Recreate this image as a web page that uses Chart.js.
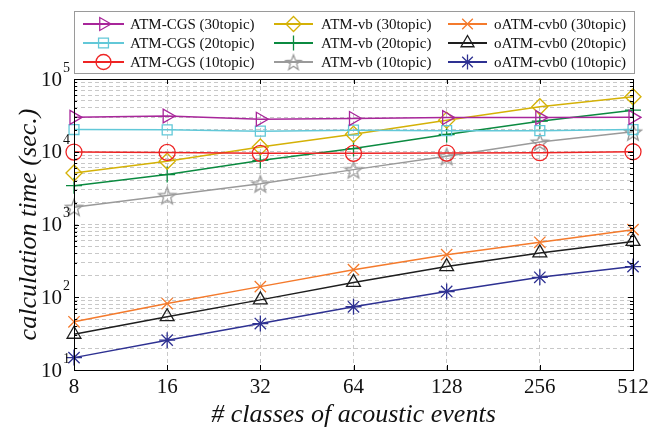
<!DOCTYPE html>
<html><head><meta charset="utf-8">
<script src="https://cdn.jsdelivr.net/npm/chart.js@4/dist/chart.umd.min.js"></script>
<style>html,body{margin:0;padding:0;background:#fff}#wrap{width:662px;height:432px}</style>
</head><body><div id="wrap"><canvas id="c" width="662" height="432"></canvas></div>
<script>
// ---- data ----
const categories = ['8','16','32','64','128','256','512'];
const cgs30 = [29700, 31000, 28000, 28700, 29500, 29500, 29700];
const cgs20 = [20200, 20000, 19200, 19800, 19500, 19500, 20200];
const cgs10 = [9900, 9800, 9500, 9500, 9600, 9700, 10000];
const vb30  = [5100, 7400, 11650, 17400, 27200, 41500, 57000];
const vb20  = [3420, 4850, 7600, 11070, 17270, 26350, 37300];
const vb10  = [1730, 2510, 3640, 5680, 8670, 13650, 18800];
const ocvb30 = [46, 82, 140, 239, 385, 570, 850];
const ocvb20 = [31, 54, 92, 160, 264, 407, 585];
const ocvb10 = [14.8, 25.7, 43.5, 74, 120, 188, 264];
const seriesLabels = ['ATM-CGS (30topic)','ATM-CGS (20topic)','ATM-CGS (10topic)',
  'ATM-vb (30topic)','ATM-vb (20topic)','ATM-vb (10topic)',
  'oATM-cvb0 (30topic)','oATM-cvb0 (20topic)','oATM-cvb0 (10topic)'];
const yPowers = [1,2,3,4,5];
const xTitle = '# classes of acoustic events';
const yTitle = 'calculation time (sec.)';

const FONT = "'Liberation Serif','Times New Roman',serif";

function starCanvas(color, R){
  const s=Math.ceil(R*2+4), c=document.createElement('canvas'); c.width=s; c.height=s;
  const g=c.getContext('2d'); g.strokeStyle=color; g.lineWidth=1.3; g.beginPath();
  const r=R*0.42;
  for(let i=0;i<10;i++){const rad=i%2?r:R; const a=-Math.PI/2+i*Math.PI/5;
    const x=s/2+rad*Math.cos(a), y=s/2+R*0.12+rad*Math.sin(a); i?g.lineTo(x,y):g.moveTo(x,y);}
  g.closePath(); g.stroke(); return c;
}

const styles = [
  {color:'#A8269A', pointStyle:'triangle', rotation:90, radius:8},
  {color:'#62C8D8', pointStyle:'rect', rotation:0, radius:7},
  {color:'#EE2424', pointStyle:'circle', rotation:0, radius:8},
  {color:'#D4B106', pointStyle:'rectRot', rotation:0, radius:8},
  {color:'#0B8A40', pointStyle:'cross', rotation:0, radius:8},
  {color:'#9A9A9A', pointStyle:starCanvas('#9A9A9A', 9), rotation:0, radius:9},
  {color:'#F47A2C', pointStyle:'crossRot', rotation:0, radius:8},
  {color:'#1E1E1E', pointStyle:'triangle', rotation:0, radius:8},
  {color:'#2E3192', pointStyle:'star', rotation:0, radius:8}
];
const legendStar = starCanvas('#9A9A9A', 8);
const seriesData = [cgs30,cgs20,cgs10,vb30,vb20,vb10,ocvb30,ocvb20,ocvb10];

const datasets = seriesData.map((d,i)=>({
  label: seriesLabels[i], data: d,
  borderColor: styles[i].color, backgroundColor: 'rgba(0,0,0,0)',
  pointBorderColor: styles[i].color, pointBackgroundColor: 'rgba(0,0,0,0)',
  pointStyle: styles[i].pointStyle, pointRotation: styles[i].rotation,
  pointRadius: styles[i].radius, pointBorderWidth: 1.3, borderWidth: 1.5,
  fill:false, tension:0
}));

const yTickVals = [];
for (let k=1;k<=4;k++) for (let m=1;m<=9;m++) yTickVals.push(m*Math.pow(10,k));
yTickVals.push(100000);

function drawMarker(ctx, st, x, y){
  if (Chart.helpers && Chart.helpers.drawPoint) {
    ctx.save(); ctx.strokeStyle=st.color; ctx.fillStyle='rgba(0,0,0,0)'; ctx.lineWidth=1.3;
    const ps = (typeof st.pointStyle === 'string') ? st.pointStyle : legendStar;
    Chart.helpers.drawPoint(ctx, {pointStyle: ps, rotation: st.rotation, radius: Math.min(st.radius,7.5), borderWidth: 1.3}, x, y);
    ctx.restore();
  }
}

const framePlugin = {
  id:'frame',
  afterDraw(chart){
    const {ctx, chartArea:a, scales} = chart;
    ctx.save();
    ctx.strokeStyle='#000'; ctx.lineWidth=1; ctx.setLineDash([]);
    ctx.strokeRect(Math.round(a.left)+0.5, Math.round(a.top)+0.5, Math.round(a.right-a.left), Math.round(a.bottom-a.top));
    ctx.beginPath();
    scales.x.ticks.forEach((t,i)=>{ const x=Math.round(scales.x.getPixelForTick(i))+0.5;
      ctx.moveTo(x,a.bottom); ctx.lineTo(x,a.bottom-5); ctx.moveTo(x,a.top); ctx.lineTo(x,a.top+5); });
    yTickVals.forEach(v=>{ const y=Math.round(scales.y.getPixelForValue(v))+0.5;
      const major = Math.abs(Math.log10(v)-Math.round(Math.log10(v)))<1e-9; const L = major?5:3;
      ctx.moveTo(a.left,y); ctx.lineTo(a.left+L,y); ctx.moveTo(a.right,y); ctx.lineTo(a.right-L,y); });
    ctx.stroke();
    ctx.fillStyle='#111';
    yPowers.forEach(p=>{ const y=scales.y.getPixelForValue(Math.pow(10,p));
      ctx.font='21px '+FONT; ctx.textAlign='right'; ctx.textBaseline='middle';
      ctx.fillText('10', 62, y+1);
      ctx.font='14px '+FONT; ctx.textAlign='left';
      ctx.fillText(String(p), 63, y-11);
    });
    // legend
    const bx=74.5, by=11.5, bw=560, bh=62;
    ctx.fillStyle='#fff'; ctx.fillRect(bx,by,bw,bh);
    ctx.strokeStyle='#9a9a9a'; ctx.lineWidth=1; ctx.strokeRect(bx,by,bw,bh);
    const colLine=[[83,124],[274,313],[448,487]]; const colText=[130,321,494];
    const rowY=[24,43,62];
    chart.data.datasets.forEach((ds,i)=>{
      const c=Math.floor(i/3), r=i%3, y=rowY[r];
      ctx.strokeStyle=styles[i].color; ctx.lineWidth=1.8;
      ctx.beginPath(); ctx.moveTo(colLine[c][0],y); ctx.lineTo(colLine[c][1],y); ctx.stroke();
      drawMarker(ctx, styles[i], (colLine[c][0]+colLine[c][1])/2, y);
      ctx.fillStyle='#111'; ctx.font='15px '+FONT; ctx.textAlign='left'; ctx.textBaseline='middle';
      ctx.fillText(ds.label, colText[c], y+1);
    });
    ctx.restore();
  }
};

new Chart(document.getElementById('c'), {
  type:'line',
  data:{labels:categories, datasets},
  options:{
    responsive:false, animation:false, devicePixelRatio:1,
    layout:{padding:{top:79,right:29,left:0,bottom:0}},
    plugins:{legend:{display:false}, tooltip:{enabled:false}},
    scales:{
      x:{type:'category', offset:false,
        grid:{color:'#c8c8c8', drawTicks:false, lineWidth:1},
        border:{display:false, dash:[4,3]},
        ticks:{font:{family:FONT,size:21}, color:'#111', padding:5, maxRotation:0, autoSkip:false},
        title:{display:true, text:xTitle, color:'#111', font:{family:FONT,size:26,style:'italic'}, padding:{top:0,bottom:1}},
        afterFit(s){ s.height=62; }
      },
      y:{type:'logarithmic', min:10, max:100000,
        afterBuildTicks(s){ s.ticks = yTickVals.map(v=>({value:v})); },
        grid:{color:'#c8c8c8', drawTicks:false, lineWidth:1},
        border:{display:false, dash:[4,3]},
        ticks:{callback:()=>'', autoSkip:false, padding:0},
        title:{display:true, text:yTitle, color:'#111', font:{family:FONT,size:26,style:'italic'}, padding:{top:14,bottom:0}},
        afterFit(s){ s.width=74; }
      }
    }
  },
  plugins:[framePlugin]
});
</script></body></html>
